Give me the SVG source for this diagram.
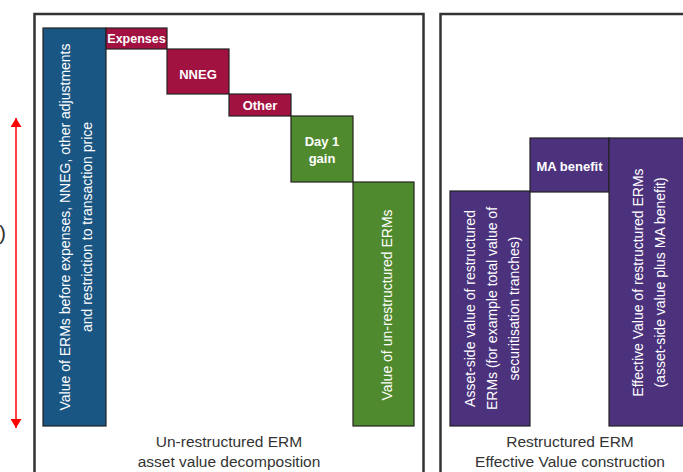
<svg xmlns="http://www.w3.org/2000/svg" width="683" height="472" viewBox="0 0 683 472">
<style>
.frame{fill:#fff;stroke:#333;stroke-width:2.5}
.bar{stroke:#222;stroke-width:1.2}
.blue{fill:#1a5684}
.red{fill:#a21240}
.green{fill:#508a2e}
.purple{fill:#4c327d}
.lbl{font-family:"Liberation Sans",Arial,sans-serif;font-size:14px;fill:#fff;text-anchor:middle}
.sm{font-size:13px;font-weight:bold}
.cap{font-family:"Liberation Sans",Arial,sans-serif;font-size:15.5px;fill:#333;text-anchor:middle}
</style>
<defs>
<marker id="ah" viewBox="0 0 10 10" refX="10" refY="5" markerWidth="9" markerHeight="11" markerUnits="userSpaceOnUse" orient="auto-start-reverse" preserveAspectRatio="none">
<path d="M0,0 L10,5 L0,10 z" fill="#ff0000"/>
</marker>
</defs>
<rect width="683" height="472" fill="#fff"/>
<g id="frame-left"><rect class="frame" x="34.5" y="14" width="389" height="480"/></g>
<g id="frame-right"><rect class="frame" x="440.5" y="14" width="300" height="480"/></g>
<g id="connectors">
<line x1="16" y1="118" x2="16" y2="428" stroke="#ff0000" stroke-width="1.5" marker-start="url(#ah)" marker-end="url(#ah)"/>
</g>
<text x="6" y="240" font-family="Liberation Sans, Arial, sans-serif" font-size="21" fill="#333" text-anchor="end">)</text>
<g id="value-before">
<rect class="bar blue" x="43" y="28" width="63" height="398"/>
<text class="lbl" transform="translate(74.5,227) rotate(-90)"><tspan x="0" y="-4.5">Value of ERMs before expenses, NNEG, other adjustments</tspan><tspan x="0" y="17.5">and restriction to transaction price</tspan></text>
</g>
<g id="expenses">
<rect class="bar red" x="106" y="28" width="61" height="21"/>
<text class="lbl sm" x="136.5" y="43" style="font-size:12.5px">Expenses</text>
</g>
<g id="nneg">
<rect class="bar red" x="167" y="49" width="62" height="45"/>
<text class="lbl sm" x="198" y="79">NNEG</text>
</g>
<g id="other">
<rect class="bar red" x="229" y="94" width="62" height="22"/>
<text class="lbl sm" x="260" y="110">Other</text>
</g>
<g id="day1">
<rect class="bar green" x="291" y="116" width="62" height="66"/>
<text class="lbl sm" x="322" y="146">Day 1</text>
<text class="lbl sm" x="322" y="163">gain</text>
</g>
<g id="value-unrestructured">
<rect class="bar green" x="353" y="182" width="61" height="244"/>
<text class="lbl" transform="translate(383.5,305) rotate(-90)"><tspan x="0" y="8">Value of un-restructured ERMs</tspan></text>
</g>
<g id="asset-side">
<rect class="bar purple" x="450" y="191" width="80" height="235"/>
<text class="lbl" transform="translate(490,308.5) rotate(-90)"><tspan x="0" y="-15">Asset-side value of restructured</tspan><tspan x="0" y="7">ERMs (for example total value of</tspan><tspan x="0" y="29">securitisation tranches)</tspan></text>
</g>
<g id="ma-benefit">
<rect class="bar purple" x="530" y="138" width="79" height="54"/>
<text class="lbl sm" x="569.5" y="171">MA benefit</text>
</g>
<g id="effective-value">
<rect class="bar purple" x="609" y="138" width="80" height="288"/>
<text class="lbl" transform="translate(649,282.5) rotate(-90)"><tspan x="0" y="-6">Effective Value of restructured ERMs</tspan><tspan x="0" y="16">(asset-side value plus MA benefit)</tspan></text>
</g>
<g id="caption-left">
<text class="cap" x="229" y="447">Un-restructured ERM</text>
<text class="cap" x="229" y="467">asset value decomposition</text>
</g>
<g id="caption-right">
<text class="cap" x="570" y="447">Restructured ERM</text>
<text class="cap" x="570" y="467">Effective Value construction</text>
</g>
</svg>
